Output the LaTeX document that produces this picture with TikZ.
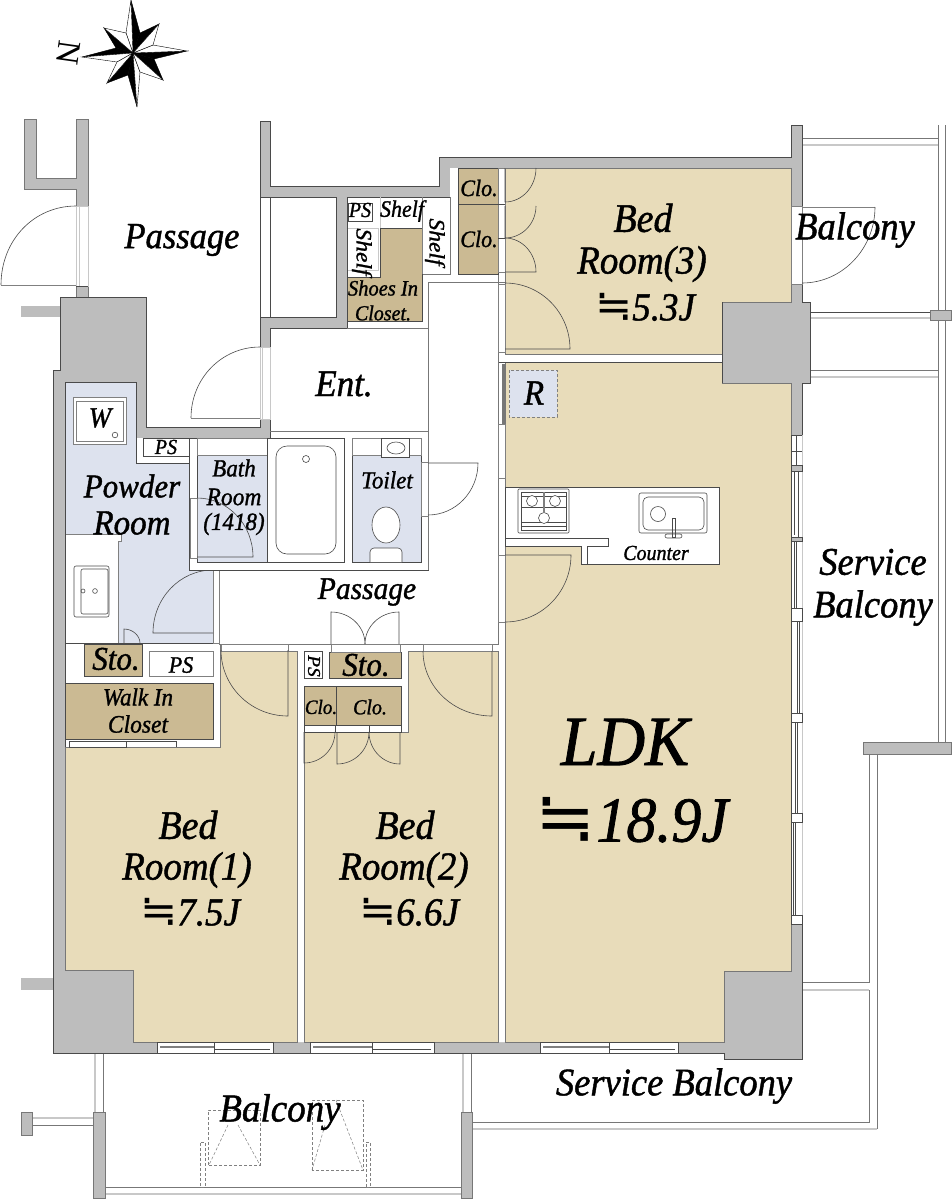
\documentclass[tikz,border=0pt]{standalone}
\usepackage{fontspec}
\usepackage{graphicx}
\usetikzlibrary{calc}
\setmainfont{Liberation Serif}
\newfontfamily\labf{Liberation Serif}[ItalicFeatures={FakeBold=1.2}]
\newfontfamily\eqf{DejaVu Sans}
\newcommand{\eqd}{\scalebox{1.2}[1.1]{\eqf\upshape ≒}}
\definecolor{wallc}{HTML}{BDBDBD}
\definecolor{edgec}{HTML}{4A4A4A}
\definecolor{beige}{HTML}{E8DCBA}
\definecolor{tanc}{HTML}{CBBA93}
\definecolor{bluec}{HTML}{DDE2EE}
\definecolor{railc}{HTML}{777777}
\definecolor{lightc}{HTML}{C8C8C8}
\tikzset{
  wall/.style={fill=wallc,draw=edgec,line width=0.7},
  wallfill/.style={fill=wallc,draw=none},
  room/.style={fill=beige,draw=railc,line width=0.7},
  floorw/.style={fill=white,draw=none},
  thinl/.style={draw=edgec,line width=0.6},
  framew/.style={fill=white,draw=edgec,line width=0.6},
  framel/.style={fill=white,draw=gray,line width=0.6},
  store/.style={fill=tanc,draw=edgec,line width=0.7},
  wet/.style={fill=bluec,draw=edgec,line width=0.7},
  rail/.style={draw=railc,line width=0.9},
  railb/.style={draw=lightc,line width=1.1},
  dashline/.style={draw=gray,line width=0.5,densely dashed},
  doorl/.style={draw=edgec,line width=0.6},
  starb/.style={fill=black,draw=black,line width=0.4},
  starw/.style={fill=white,draw=black,line width=0.4},
  lab/.style={inner sep=0,outer sep=0,text=black,yscale=1.07}
}
% centre, leaf end, other end of the swing
\newcommand{\swing}[3]{\draw[doorl] (#1) -- (#2) .. controls ($(#2)+0.5523*(#3)-0.5523*(#1)$) and ($(#3)+0.5523*(#2)-0.5523*(#1)$) .. (#3);}
% name, x, y, size, text
\newcommand{\lb}[5]{\node[lab,font={\fontsize{#4}{#4}\labf\itshape}] (#1) at (#2,#3) {#5};}
\newcommand{\lbr}[6]{\node[lab,rotate=#6,font={\fontsize{#4}{#4}\labf\itshape}] (#1) at (#2,#3) {#5};}
\newcommand{\spk}[4]{% tip, cw base, ccw base, which half black
  \ifnum#4=1
   \path[starb] (133,53) -- (#1) -- (#2) -- cycle; \path[starw] (133,53) -- (#1) -- (#3) -- cycle;
  \else
   \path[starb] (133,53) -- (#1) -- (#3) -- cycle; \path[starw] (133,53) -- (#1) -- (#2) -- cycle;
  \fi}
\begin{document}
\begin{tikzpicture}[x=1pt,y=-1pt]
\useasboundingbox (0,0) rectangle (952,1200);
\fill[white] (0,0) rectangle (952,1200);

% compass
\spk{131,0}{140,33}{126,33}{1}
\spk{187,51}{154,59}{153,45}{1}
\spk{137,107}{128,75}{140,72}{1}
\spk{82,57}{116,48}{117,62}{1}
\spk{159,24}{153,45}{140,33}{0}
\spk{163,80}{140,72}{154,59}{0}
\spk{107,83}{117,62}{128,75}{0}
\spk{104,28}{126,33}{116,48}{0}
\node[inner sep=0,outer sep=0,rotate=-98,font={\fontsize{33}{33}\selectfont}] (north) at (69,53) {N};

% outdoor rails, right side
\draw[rail] (802,138) -- (938,138);
\draw[railb] (802,145) -- (938,145);
\draw[rail] (938,125) -- (938,742);
\draw[rail] (945,125) -- (945,742);
\draw[draw=edgec,line width=0.9] (810,312) -- (930,312);
\draw[railb] (810,318) -- (930,318);
\fill[wallc,draw=railc,line width=0.7] (930,310) rectangle (951,320);
\draw[rail] (810,370) -- (938,370);
\draw[railb] (810,377) -- (938,377);
\fill[wallc,draw=railc,line width=0.7] (863,742) rectangle (951,754);
\draw[rail] (869,754) -- (869,982) -- (802,982);
\draw[railb] (802,990) -- (869,990);
\draw[rail] (869,990) -- (869,1122) -- (472,1122);
\draw[railb] (472,1129) -- (877,1129);
\draw[rail] (877,754) -- (877,1129);

% bottom balcony
\draw[railb] (95,1053) -- (95,1112);
\draw[rail] (103,1053) -- (103,1112);
\draw[railb] (463,1053) -- (463,1112);
\draw[rail] (471,1053) -- (471,1112);
\draw[rail] (105,1187) -- (461,1187);
\draw[railb] (105,1194) -- (461,1194);
\draw[railb] (32,1118) -- (93,1118);
\draw[rail] (32,1125) -- (93,1125);
\fill[wallc,draw=railc,line width=0.7] (21,1112) rectangle (32,1135);
\fill[wallc,draw=railc,line width=0.7] (93,1112) rectangle (105,1198);
\fill[wallc,draw=railc,line width=0.7] (461,1112) rectangle (472,1198);
\draw[dashline] (208,1165) rectangle (260,1110);
\draw[dashline] (228,1125) -- (209,1165) (238,1125) -- (260,1165);
\draw[dashline] (204,1187) -- (200,1187) -- (200,1142) -- (205,1142) -- (205,1187);
\draw[dashline] (312,1170) rectangle (363,1100);
\draw[dashline] (325,1125) -- (312,1170) (336,1100) -- (363,1170);
\draw[dashline] (366,1187) -- (370,1187) -- (370,1142) -- (366,1142) -- (366,1187);

% stubs and chase
\fill[wallfill] (21,306) rectangle (62,317);
\fill[wallfill] (21,978) rectangle (55,990);
\path[fill=wallc,draw=railc,line width=0.6] (24,119) -- (24,189) -- (76,189) -- (76,297) -- (88,297) -- (88,119) -- (76,119) -- (76,178) -- (36,178) -- (36,119) -- cycle;

% building shell
\draw[wall] (60,297) -- (146,297) -- (146,427) -- (260,427) -- (260,121) -- (270,121) -- (270,186) -- (439,186) -- (439,157) -- (791,157) -- (791,125) -- (802,125) -- (802,302) -- (810,302) -- (810,383) -- (802,383) -- (802,1059) -- (724,1059) -- (724,1053) -- (53,1053) -- (53,370) -- (60,370) -- cycle;
% interior floor
\draw[floorw] (65,382) -- (136,382) -- (136,438) -- (270,438) -- (270,328) -- (347,328) -- (347,197) -- (450,197) -- (450,168) -- (791,168) -- (791,302) -- (722,302) -- (722,383) -- (791,383) -- (791,971) -- (724,971) -- (724,1042) -- (133,1042) -- (133,970) -- (65,970) -- cycle;
\draw[thinl] (65,970) -- (65,382) -- (136,382) -- (136,438) -- (270,438) -- (270,328) (270,328) -- (347,328) -- (347,197) -- (450,197) -- (450,168) -- (791,168);
\draw[thinl] (722,302) -- (791,302) (722,383) -- (791,383) (133,970) -- (133,1042);

% rooms
\draw[room] (505,168) -- (791,168) -- (791,302) -- (722,302) -- (722,354) -- (505,354) -- cycle;
\draw[room] (505,362) -- (722,362) -- (722,383) -- (791,383) -- (791,971) -- (724,971) -- (724,1042) -- (505,1042) -- cycle;
\draw[room] (220,651) -- (297,651) -- (297,1042) -- (133,1042) -- (133,970) -- (65,970) -- (65,747) -- (220,747) -- cycle;
\draw[room] (408,651) -- (498,651) -- (498,1042) -- (304,1042) -- (304,732) -- (408,732) -- cycle;
\draw[thinl] (498,362) -- (722,362);
\draw[thinl] (722,302) -- (722,383);

% corridor outlines
\draw[draw=railc,line width=0.6] (347,328) -- (428,328) -- (428,431) (428,282) -- (505,282);
\draw[draw=railc,line width=0.6] (428,282) -- (428,328) (498,168) -- (498,644) -- (219,644);
\draw[draw=railc,line width=0.6] (450,197) -- (450,274) -- (422,274);
\draw[draw=railc,line width=0.6] (65,747) -- (220,747) -- (220,644);

% box by Ent door
\draw[thinl,fill=white] (270,197) rectangle (336,317);
\draw[framew] (260,197) rectangle (270,317);

% shelf / shoes
\draw[store] (380,228) -- (422,228) -- (422,321) -- (347,321) -- (347,277) -- (380,277) -- cycle;
\draw[draw=gray,line width=0.6] (422,197) -- (422,274);
\draw[thinl,fill=white] (348,203) rectangle (372,221);
\draw[draw=lightc,line width=0.6] (348,228) -- (378,228) -- (378,270) -- (348,270);
\draw[draw=lightc,line width=0.6] (380,197) -- (380,228);

% Clo. bedroom 3
\fill[white] (450,168) rectangle (458,197);
\draw[store] (458,168) rectangle (498,204);
\draw[store] (458,204) rectangle (498,274);
\draw[framel] (498,168) rectangle (505,272);
\draw[thinl] (498,204) -- (505,204) (498,238) -- (505,238);
\swing{505,168}{505,202}{536,168}
\swing{505,206}{505,238}{536,206}
\swing{505,272}{536,272}{505,238}

% door bedroom 3 and wall column
\draw[framel] (498,284) rectangle (505,352);
\swing{505,349}{570,349}{505,283}
\fill[railc] (502,364) rectangle (505,424);
\draw[framel] (498,424) rectangle (505,478);
\draw[framel] (498,555) rectangle (505,622);
\swing{505,555}{571,555}{505,622}

% R
\draw[fill=bluec,draw=gray,line width=0.7,densely dashed] (509,370) rectangle (557,417);

% counter
\draw[thinl,fill=white] (505,487) -- (719,487) -- (719,564) -- (581,564) -- (581,546) -- (505,546) -- cycle;
\draw[thinl] (505,538) -- (608,538) -- (608,546) -- (587,546) -- (587,564);
% stove
\draw[thinl,rounded corners=1] (518,489) rectangle (569,533);
\draw[thinl] (521,492) rectangle (566,530);
\draw[thinl] (521,522) -- (566,522) (521,526) -- (566,526) (521,507) -- (566,507) (521,496) -- (566,496);
\draw[thinl,fill=white] (532,501) circle (5.5) (555,501) circle (5.5) (544,518) circle (5.5);
\draw[draw=gray,line width=1.6] (544,492) -- (544,513);
% sink
\draw[thinl,rounded corners=2] (639,493) rectangle (707,533);
\draw[thinl,rounded corners=5] (643,497) rectangle (704,530);
\draw[thinl] (658,514) circle (7.5);
\draw[thinl] (672,518) rectangle (675,537);
\draw[thinl,rounded corners=2] (665,534) rectangle (682,538);

% windows right wall
\draw[fill=white,draw=none] (791,435) rectangle (802,924);
\draw[draw=edgec,line width=0.7] (791,435) -- (791,924);
\draw[draw=lightc,line width=0.8] (802,435) -- (802,924);
\draw[thinl] (791,435) -- (802,435) (796,435) -- (796,466) (791,451) -- (802,451);
\draw[thinl,fill=wallc] (791,465) rectangle (802,471);
\draw[thinl] (794,471) -- (794,535) (798,471) -- (798,540);
\draw[thinl,fill=wallc] (791,537) rectangle (802,541);
\draw[thinl] (794,541) -- (794,608) (796,541) -- (796,608);
\draw[thinl,fill=white] (791,608) rectangle (802,621);
\draw[thinl] (797,621) -- (797,716) (799,621) -- (799,716);
\draw[thinl,fill=white] (791,713) rectangle (802,722);
\draw[thinl] (795,722) -- (795,816) (797,722) -- (797,816);
\draw[thinl,fill=white] (791,813) rectangle (802,822);
\draw[thinl] (793,822) -- (793,915) (795,822) -- (795,915);
\draw[thinl,fill=white] (791,915) rectangle (802,924);

% balcony door, bedroom 3
\draw[framel] (791,206) rectangle (802,284);
\draw[draw=gray,line width=0.6] (802,207) -- (875,207);
\draw[doorl] (875,207) .. controls (875,248) and (843,283) .. (802,283);

% front door and Ent door
\draw[framel,draw=lightc] (76,206) rectangle (88,286);
\draw[draw=lightc,line width=0.6] (79,206) -- (79,286);
\draw[thinl] (76,286) -- (88,286);
\draw[doorl] (76,206) .. controls (34,206) and (1,240) .. (1,285);
\draw[draw=gray,line width=0.6] (1,285) -- (76,285);
\draw[framel,draw=lightc] (260,347) rectangle (270,419);
\draw[draw=lightc,line width=0.6] (262,347) -- (262,419);
\draw[doorl] (260,347) .. controls (222,347) and (191,378) .. (191,418);
\draw[draw=gray,line width=0.6] (191,418) -- (260,418);

% powder room
\draw[wet] (65,382) -- (136,382) -- (136,463) -- (189,463) -- (189,570) -- (213,570) -- (213,643) -- (65,643) -- cycle;
\fill[white] (136,438) rectangle (189,463);
\draw[thinl] (136,438) -- (136,463) -- (189,463);
\draw[thinl] (143,438) rectangle (189,456);
\draw[draw=gray,fill=white,line width=0.7] (73,397) rectangle (126,444);
\draw[draw=gray,fill=white,line width=0.7] (76,401) rectangle (123,441);
\draw[thinl] (115,435) circle (2.8);
\draw[fill=white,draw=gray,line width=0.6] (65,534) rectangle (121,541);
\fill[white] (65,541) rectangle (118,643);
\draw[draw=gray,line width=0.6] (118,541) -- (118,643);
\draw[thinl] (65,534) -- (65,643);
\draw[thinl,rounded corners=2] (74,566) rectangle (109,617);
\draw[thinl,rounded corners=2] (81,569) rectangle (108,614);
\draw[thinl] (83,591) circle (2) (95,591) circle (2.4);
\draw[thinl] (124,643) -- (124,629) .. controls (133,629) and (140,636) .. (140,643);
\draw[thinl] (65,643) -- (219,643);
\draw[framel] (213,570) rectangle (219,643);
\swing{213,633}{153,633}{213,570}

% bath block
\draw[thinl,fill=white] (189,438) -- (428,438) -- (428,570) -- (189,570) -- cycle;
\fill[white] (270.5,431) rectangle (428,438.5);
\draw[draw=railc,line width=0.6] (270,431) -- (428,431) -- (428,570);
\draw[wet] (197,455) rectangle (267,562);
\draw[draw=gray,line width=0.6] (197,438) rectangle (267,455);
\draw[framew] (267,438) rectangle (344,562);
\draw[thinl,rounded corners=11] (276,446) rectangle (336,554);
\draw[thinl] (306,459) circle (3.5);
\draw[wet] (352,455) rectangle (421,562);
\draw[draw=gray,line width=0.6] (352,438) rectangle (421,455);
\draw[thinl,fill=white] (381,438) rectangle (409,457);
\draw[thinl] (396,448) ellipse (9 and 6);
\draw[thinl,fill=white] (386,525) ellipse (14 and 18);
\draw[thinl,fill=white,rounded corners=4] (370,562) -- (370,548) -- (402,548) -- (402,562);
\draw[draw=gray,fill=white,line width=0.6] (190,498) rectangle (197,558);
\swing{197,557}{253,557}{197,498}
\draw[framel] (421,462) rectangle (428,516);
\swing{428,463}{478,463}{428,515}

% lower stores
\draw[store] (84,644) rectangle (142,676);
\draw[thinl,fill=white,draw=gray] (149,651) rectangle (213,676);
\draw[store] (65,683) rectangle (213,739);
\draw[thinl,fill=white] (69,741) rectangle (126,747);
\draw[thinl] (126,741) -- (176,741) -- (176,747);
\draw[framel] (221,644) rectangle (288,651);
\swing{288,650}{288,716}{221,650}
\draw[framel] (423,644) rectangle (492,651);
\swing{492,651}{492,716}{423,651}
\draw[framew] (304,651) rectangle (322,678);
\draw[store] (329,652) rectangle (401,678);
\draw[framel] (331,644) rectangle (400,652);
\swing{331,644}{331,612}{365,644}
\swing{399,644}{399,612}{365,644}
\draw[store] (304,686) rectangle (336,725);
\draw[store] (336,686) rectangle (401,725);
\draw[framew] (304,725) rectangle (401,732);
\draw[thinl] (335,725) -- (335,732) (369,725) -- (369,732);
\swing{304,732}{304,763}{335,732}
\swing{337,732}{337,764}{369,732}
\swing{400,732}{400,764}{369,732}

% bottom windows
\foreach \xa/\xm/\xb in {157/214/273,310/372/434,540/609/678}{
  \draw[framew] (\xa,1042) rectangle (\xb,1053);
  \draw[thinl] (\xm,1042) -- (\xm,1053);
  \draw[draw=gray,line width=1.2] (\xa+3,1047) -- (\xm,1047);
  \draw[draw=edgec,line width=0.9] (\xm,1049) -- (\xb-3,1049);
}

% labels
\lb{pass1}{182}{240}{34.5}{Passage}
\lb{ent}{344}{384}{35}{Ent.}
\lb{bed3a}{643}{218}{38}{Bed}
\lb{bed3b}{642}{264}{37}{Room(3)}
\lb{bed3c}{645}{307}{37}{\eqd 5.3J}
\lb{balc1}{855}{230}{36.5}{Balcony}
\lb{serv1}{873}{562}{36.5}{Service}
\lb{serv2}{873}{608}{36.5}{Balcony}
\lb{pow1}{132}{486}{31}{Powder}
\lb{pow2}{132}{523}{33}{Room}
\lb{bath1}{234}{468}{23}{Bath}
\lb{bath2}{234}{497}{23.5}{Room}
\lb{bath3}{234}{524}{23}{(1418)}
\lb{toil}{387}{480}{23}{Toilet}
\lb{pass2}{367}{592}{29.5}{Passage}
\lb{sto1}{116}{659}{31}{Sto.}
\lb{sto2}{366}{665}{31}{Sto.}
\lb{ps1}{181}{665}{22}{PS}
\lb{ps2}{166}{447}{20}{PS}
\lb{ps3}{360}{210}{20}{PS}
\lbr{ps4}{314}{666}{18}{PS}{-90}
\lb{wic1}{138}{697}{23}{Walk In}
\lb{wic2}{138}{724}{23.5}{Closet}
\lb{clo1}{479}{188}{22}{Clo.}
\lb{clo2}{479}{239}{22}{Clo.}
\lb{clo3}{321}{707}{19}{Clo.}
\lb{clo4}{370}{707}{20}{Clo.}
\lb{shoe1}{383}{288}{20.5}{Shoes In}
\lb{shoe2}{383}{313}{20}{Closet.}
\lb{sh1}{402}{211}{22}{Shelf}
\lbr{sh2}{362}{252}{22}{Shelf}{-90}
\lbr{sh3}{435}{242}{22}{Shelf}{-90}
\lb{cnt}{656}{553}{20}{Counter}
\lb{rr}{534}{393}{33}{R}
\lb{ww}{100}{418}{27}{W}
\lb{ldk1}{625}{742}{66}{LDK}
\lb{ldk2}{632}{820}{60}{\eqd 18.9J}
\lb{bed1a}{188}{825}{38}{Bed}
\lb{bed1b}{187}{870}{37}{Room(1)}
\lb{bed1c}{190}{912}{37}{\eqd 7.5J}
\lb{bed2a}{405}{825}{38}{Bed}
\lb{bed2b}{404}{870}{37}{Room(2)}
\lb{bed2c}{409}{912}{37}{\eqd 6.6J}
\lb{serv3}{674}{1086}{36.5}{Service Balcony}
\lb{balc2}{280}{1112}{37}{Balcony}
\end{tikzpicture}
\end{document}
